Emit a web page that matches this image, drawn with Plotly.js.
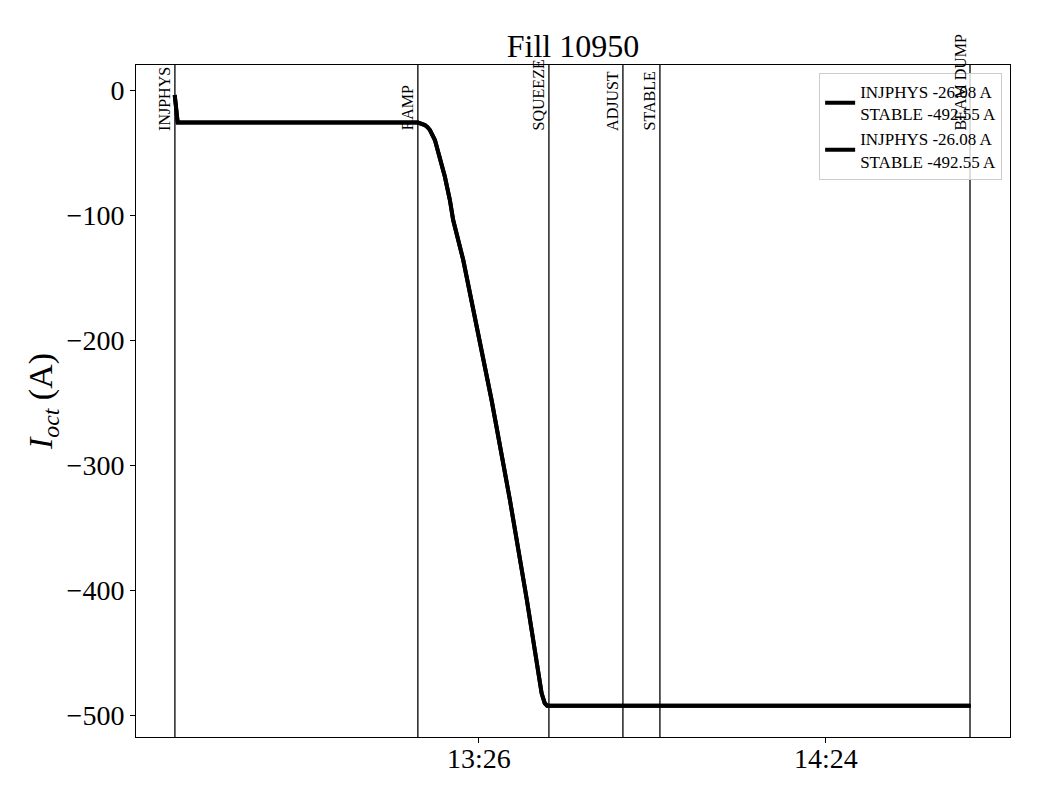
<!DOCTYPE html>
<html>
<head>
<meta charset="utf-8">
<script src="https://cdn.plot.ly/plotly-3.0.1.min.js"></script>
<style>html,body{margin:0;padding:0;background:#fff;}#chart{width:1040px;height:800px;}</style>
</head>
<body>
<div id="chart"></div>
<script>
// ---- data ----
var day = '2025-07-20 ';
var modeNames = ['INJPHYS', 'RAMP', 'SQUEEZE', 'ADJUST', 'STABLE', 'BEAM DUMP'];
var modeTimes = ['12:35:12', '13:15:48', '13:37:42', '13:50:04', '13:56:15', '14:48:04'];
var currentTimes = ['12:35:10', '12:35:40', '13:15:48', '13:16:30', '13:16:58', '13:17:25', '13:17:49', '13:18:39', '13:19:29', '13:20:19', '13:21:09', '13:21:42', '13:23:23', '13:25:37', '13:28:07', '13:31:11', '13:34:01', '13:36:29', '13:37:00', '13:37:24', '14:48:10'];
var currentValues = [-4, -26.08, -26.08, -26.8, -28, -29.8, -32, -40, -53.4, -69.4, -88, -104, -136, -189.4, -248, -328, -408, -482.6, -490.5, -492.55, -492.55];
var legendLabel = 'INJPHYS -26.08 A<br>STABLE -492.55 A';
var tickTimes = ['13:26', '14:24'];
var xRange = ['12:28:42', '14:54:45'];
var yRange = [-517.6, 20];
var labelY = -34;

var serif = 'Liberation Serif, Times New Roman, serif';
var xs = currentTimes.map(function (t) { return day + t; });

var traces = [
  { x: xs, y: currentValues, type: 'scatter', mode: 'lines', name: legendLabel,
    line: { color: '#000', width: 4 } },
  { x: xs, y: currentValues, type: 'scatter', mode: 'lines', name: legendLabel,
    line: { color: '#000', width: 4 } }
];

var shapes = modeTimes.map(function (t) {
  return { type: 'line', xref: 'x', yref: 'paper', x0: day + t, x1: day + t, y0: 0, y1: 1,
           line: { color: '#000', width: 1.3 }, layer: 'below' };
});
var annotations = modeNames.map(function (n, i) {
  return { x: day + modeTimes[i], y: labelY, xref: 'x', yref: 'y', text: n, showarrow: false,
           textangle: -90, xanchor: 'right', yanchor: 'bottom', xshift: 0,
           font: { family: serif, size: 16, color: '#000' } };
});

var layout = {
  width: 1040, height: 800,
  margin: { l: 136, r: 30, t: 65, b: 63 },
  paper_bgcolor: '#fff', plot_bgcolor: '#fff',
  font: { family: serif, color: '#000' },
  title: { text: 'Fill 10950', font: { family: serif, size: 32, color: '#000' },
           x: 0.5, xref: 'paper', xanchor: 'center', y: 0.943, yref: 'container', yanchor: 'middle' },
  xaxis: {
    type: 'date', range: xRange.map(function (t) { return day + t; }),
    tickmode: 'array', tickvals: tickTimes.map(function (t) { return day + t; }), ticktext: tickTimes,
    ticks: 'outside', ticklen: 5, tickcolor: '#000', tickfont: { family: serif, size: 28, color: '#000' },
    ticklabelstandoff: -9,
    showline: true, linecolor: '#000', linewidth: 1, mirror: true, showgrid: false, zeroline: false
  },
  yaxis: {
    range: yRange, tickmode: 'array', tickvals: [0, -100, -200, -300, -400, -500],
    ticks: 'outside', ticklen: 5, tickcolor: '#000', tickfont: { family: serif, size: 28, color: '#000' },
    showline: true, linecolor: '#000', linewidth: 1, mirror: true, showgrid: false, zeroline: false,
    title: { text: '<i>I</i><sub><i>oct</i></sub> (A)', font: { family: serif, size: 34, color: '#000' }, standoff: 3 }
  },
  showlegend: true,
  legend: { x: 0.991, y: 0.988, xanchor: 'right', yanchor: 'top', bgcolor: 'rgba(255,255,255,0.8)',
            bordercolor: '#ccc', borderwidth: 1, font: { family: serif, size: 17, color: '#000' } },
  shapes: shapes,
  annotations: annotations
};

Plotly.newPlot('chart', traces, layout, { displayModeBar: false, staticPlot: true });
</script>
</body>
</html>
